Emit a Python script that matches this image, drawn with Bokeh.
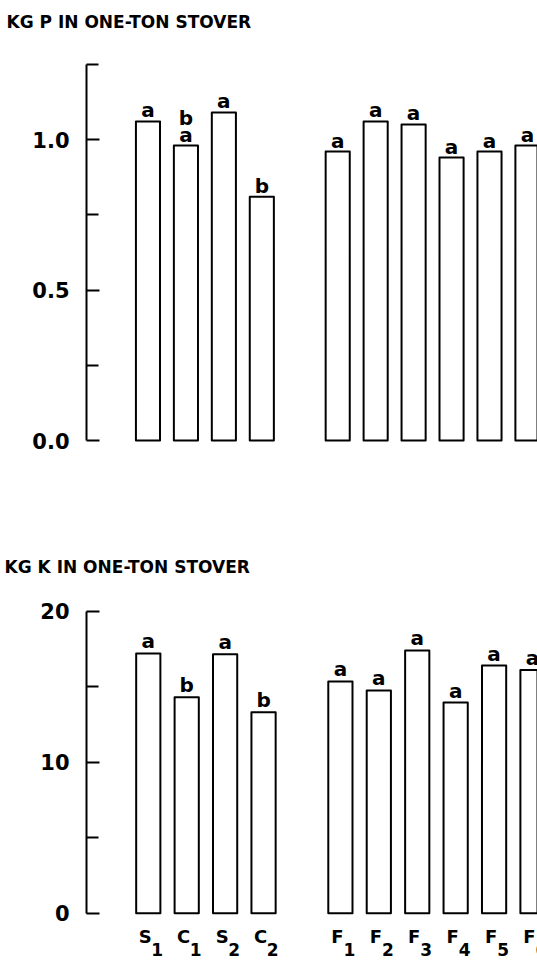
from bokeh.plotting import figure
from bokeh.layouts import column
from bokeh.models import ColumnDataSource, FixedTicker, PrintfTickFormatter
from bokeh.core.properties import value
from bokeh.embed import file_html
from bokeh.resources import INLINE

# ---- data ----
treatments = ["S1", "C1", "S2", "C2", "F1", "F2", "F3", "F4", "F5", "F6"]
groups = ["SC", "SC", "SC", "SC", "F", "F", "F", "F", "F", "F"]
kg_p = [1.06, 0.98, 1.09, 0.81, 0.96, 1.06, 1.05, 0.94, 0.96, 0.98]
kg_k = [17.2, 14.3, 17.15, 13.3, 15.35, 14.75, 17.4, 13.95, 16.4, 16.1]
p_letters = ["a", "a", "a", "b", "a", "a", "a", "a", "a", "a"]
p_letters_upper = ["", "b", "", "", "", "", "", "", "", ""]
k_letters = ["a", "b", "a", "b", "a", "a", "a", "a", "a", "a"]
p_ticks = [0.0, 0.5, 1.0]
p_minor = [0.25, 0.75, 1.25]
k_ticks = [0, 10, 20]
k_minor = [5, 15]
title_p = "KG P IN ONE-TON STOVER"
title_k = "KG K IN ONE-TON STOVER"

# positions: one empty slot between groups
xpos = []
cur = 0
for i, g in enumerate(groups):
    if i > 0 and g != groups[i - 1]:
        cur += 1
    xpos.append(cur)
    cur += 1

letters = [t[0] for t in treatments]
subs = [t[1:] for t in treatments]

FONT = "DejaVu Sans"


def make_fig(title, ticks, minor, fmt, x_range, y_range, left, top, standoff, title_size):
    p = figure(width=537, height=480, x_range=x_range, y_range=y_range,
               output_backend="svg", toolbar_location=None, x_axis_location=None,
               min_border_left=left, min_border_right=0, min_border_bottom=0,
               min_border_top=top)
    p.title.text = title
    p.title.align = "left"
    p.title.offset = -(left - 4)
    p.title.standoff = standoff
    p.title.text_font = FONT
    p.title.text_font_size = title_size
    p.title.text_font_style = "bold"
    p.title.text_color = "black"
    p.outline_line_color = None
    p.grid.visible = False
    ax = p.yaxis[0]
    ax.bounds = (ticks[0], max(ticks + minor))
    ax.ticker = FixedTicker(ticks=ticks, minor_ticks=minor)
    ax.formatter = PrintfTickFormatter(format=fmt)
    ax.axis_line_width = 2
    ax.axis_line_color = "black"
    ax.major_tick_in = 13
    ax.major_tick_out = 0
    ax.minor_tick_in = 12
    ax.minor_tick_out = 0
    ax.major_tick_line_width = 2
    ax.minor_tick_line_width = 2
    ax.major_label_standoff = 17
    ax.major_label_text_font = FONT
    ax.major_label_text_font_style = "bold"
    ax.major_label_text_font_size = "21px"
    ax.major_label_text_color = "black"
    return p


LBL = dict(text_align="center", text_baseline="alphabetic",
           text_font=value(FONT), text_font_style="bold", text_color="black")

# ---- top: phosphorus ----
p1 = make_fig(title_p, p_ticks, p_minor, "%.1f",
              (-1.62, 10.265), (-0.1329, 1.329), 84, 40, 18, "17px")
src1 = ColumnDataSource(dict(x=xpos, top=kg_p, lab=p_letters, lab2=p_letters_upper))
p1.vbar(x="x", top="top", bottom=0, width=0.635, source=src1,
        fill_color="white", line_color="black", line_width=2, line_join="round")
p1.text(x="x", y="top", text="lab", source=src1, y_offset=-11,
        text_font_size="20px", **LBL)
p1.text(x="x", y="top", text="lab2", source=src1, y_offset=-28,
        text_font_size="20px", **LBL)

# ---- bottom: potassium ----
p2 = make_fig(title_k, k_ticks, k_minor, "%d",
              (-1.608, 10.13), (-3.13, 22.03), 86, 100, 8, "17px")
src2 = ColumnDataSource(dict(x=xpos, top=kg_k, lab=k_letters,
                             letter=letters, sub=subs, zero=[0] * len(xpos)))
p2.vbar(x="x", top="top", bottom=0, width=0.63, source=src2,
        fill_color="white", line_color="black", line_width=2, line_join="round")
p2.text(x="x", y="top", text="lab", source=src2, y_offset=-12,
        text_font_size="20px", **LBL)
p2.text(x="x", y="zero", text="letter", source=src2, x_offset=-3, y_offset=23,
        text_font_size="18px", **LBL)
p2.text(x="x", y="zero", text="sub", source=src2, x_offset=9, y_offset=36,
        text_font_size="17px", **LBL)

layout = column(p1, p2, spacing=0)
open("out.html", "w").write(file_html(layout, INLINE))
